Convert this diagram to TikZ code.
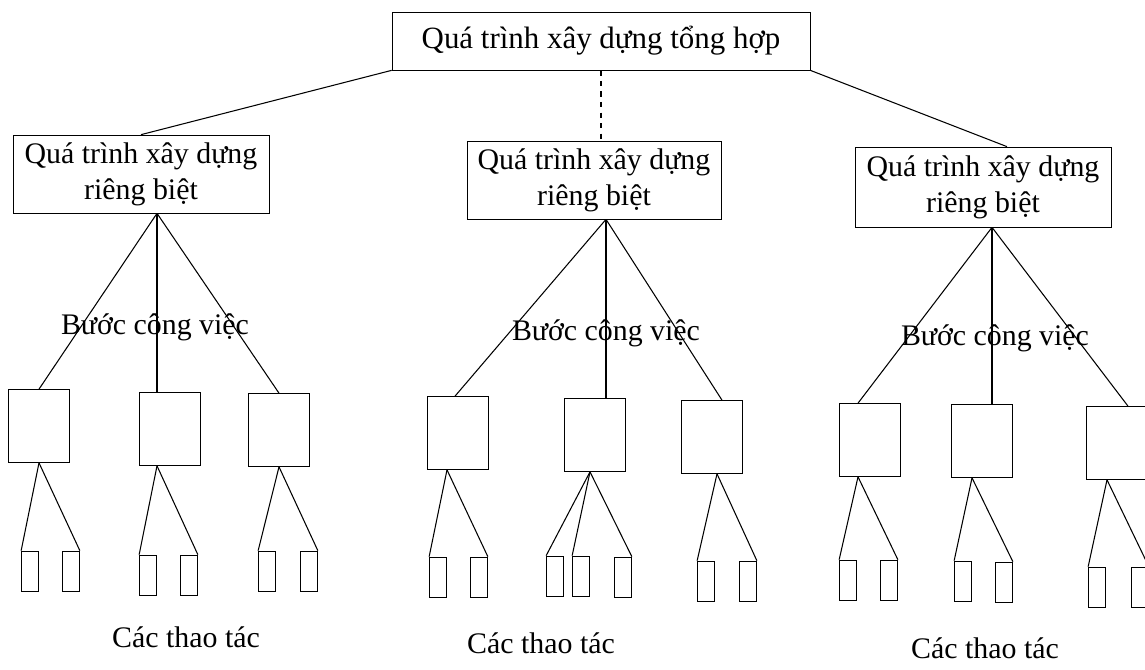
\documentclass[tikz,border=0pt]{standalone}
\usepackage{fontspec}
\setmainfont{Liberation Serif}
\begin{document}
\begin{tikzpicture}[x=0.02cm,y=-0.02cm]
\tikzstyle{every node}=[font=\fontsize{17}{19}\selectfont, inner sep=0pt]% letra de todos los nodos
\tikzstyle{proc}=[draw, rectangle, align=center, minimum height=1.56cm, font=\fontsize{17}{20.5}\selectfont]% cajas de los procesos
\tikzstyle{paso}=[draw, rectangle, minimum width=1.22cm, minimum height=1.46cm]% cajas de los pasos
\tikzstyle{oper}=[draw, rectangle, minimum width=0.34cm, minimum height=0.8cm]% cajas pequenas
\tikzstyle{rama}=[draw, line width=0.6pt]% lineas del arbol
\useasboundingbox (0,0) rectangle (1145,669);
\node[proc, minimum width=8.36cm, minimum height=1.16cm, font=\fontsize{17.6}{20}\selectfont] (top) at (601,41) {Quá trình xây dựng tổng hợp};%cabeza
\node[proc, minimum width=5.12cm] (p1) at (141,174) {Quá trình xây dựng\\riêng biệt};
\node[proc, minimum width=5.08cm] (p2) at (594,180) {Quá trình xây dựng\\riêng biệt};
\node[proc, minimum width=5.12cm, minimum height=1.6cm] (p3) at (983,187) {Quá trình xây dựng\\riêng biệt};
% pasos de cada proceso
\node[paso] (a1) at (39,426) {};
\node[paso] (a2) at (170,429) {};
\node[paso] (a3) at (279,430) {};
\node[paso] (b1) at (458,433) {};
\node[paso] (b2) at (595,435) {};
\node[paso] (b3) at (712,437) {};
\node[paso] (c1) at (870,440) {};
\node[paso] (c2) at (982,441) {};
\node[paso] (c3) at (1117,443) {};
% operaciones
\node[oper] (o11) at (30,571) {};
\node[oper] (o12) at (71,571) {};
\node[oper] (o21) at (148,575) {};
\node[oper] (o22) at (189,575) {};
\node[oper] (o31) at (267,571) {};
\node[oper] (o32) at (309,571) {};
\node[oper] (o41) at (438,577) {};
\node[oper] (o42) at (479,577) {};
\node[oper] (o51) at (555,576) {};
\node[oper] (o52) at (581,576) {};
\node[oper] (o53) at (623,577) {};
\node[oper] (o61) at (706,581) {};
\node[oper] (o62) at (748,581) {};
\node[oper] (o71) at (848,580) {};
\node[oper] (o72) at (889,580) {};
\node[oper] (o81) at (963,581) {};
\node[oper] (o82) at (1004,582) {};
\node[oper] (o91) at (1097,587) {};
\node[oper] (o92) at (1140,587) {};
% etiquetas
\node (l1) at (155,327) {Bước công việc};
\node (l2) at (606,333) {Bước công việc};
\node (l3) at (995,338) {Bước công việc};
\node (t1) at (186,637) {Các thao tác};
\node (t2) at (541,643) {Các thao tác};
\node (t3) at (985,648) {Các thao tác};
% puntos de salida bajo cada proceso
\coordinate (p1s) at ([xshift=0.32cm]p1.south);
\coordinate (p2s) at ([xshift=0.24cm]p2.south);
\coordinate (p3s) at ([xshift=0.18cm]p3.south);
% primer nivel
\draw[rama] (top.south west) -- (p1.north);
\draw[rama, dashed] (top.south) -- (top.south |- p2.north);
\draw[rama] (top.south east) -- ([xshift=0.48cm]p3.north);
% segundo nivel
\draw[rama] (p1s) -- (a1.north);
\draw[rama] (p1s) -- (p1s |- a2.north);
\draw[rama] (p1s) -- (a3.north);
\draw[rama] (p2s) -- ([xshift=-0.06cm]b1.north);
\draw[rama] (p2s) -- (p2s |- b2.north);
\draw[rama] (p2s) -- ([xshift=0.2cm]b3.north);
\draw[rama] (p3s) -- ([xshift=-0.24cm]c1.north);
\draw[rama] (p3s) -- (p3s |- c2.north);
\draw[rama] (p3s) -- ([xshift=0.22cm]c3.north);
% tercer nivel
\draw[rama] (a1.south) -- (o11.north west);
\draw[rama] (a1.south) -- (o12.north east);
\draw[rama] ([xshift=-0.26cm]a2.south) -- (o21.north west);
\draw[rama] ([xshift=-0.26cm]a2.south) -- (o22.north east);
\draw[rama] (a3.south) -- (o31.north west);
\draw[rama] (a3.south) -- (o32.north east);
\draw[rama] ([xshift=-0.22cm]b1.south) -- (o41.north west);
\draw[rama] ([xshift=-0.22cm]b1.south) -- (o42.north east);
\draw[rama] ([xshift=-0.1cm]b2.south) -- (o51.north west);
\draw[rama] ([xshift=-0.1cm]b2.south) -- (o52.north west);
\draw[rama] ([xshift=-0.1cm]b2.south) -- (o53.north east);
\draw[rama] ([xshift=0.1cm]b3.south) -- (o61.north west);
\draw[rama] ([xshift=0.1cm]b3.south) -- (o62.north east);
\draw[rama] ([xshift=-0.24cm]c1.south) -- (o71.north west);
\draw[rama] ([xshift=-0.24cm]c1.south) -- (o72.north east);
\draw[rama] ([xshift=-0.2cm]c2.south) -- (o81.north west);
\draw[rama] ([xshift=-0.2cm]c2.south) -- (o82.north east);
\draw[rama] ([xshift=-0.2cm]c3.south) -- (o91.north west);
\draw[rama] ([xshift=-0.2cm]c3.south) -- (o92.north east);
\end{tikzpicture}
\end{document}
